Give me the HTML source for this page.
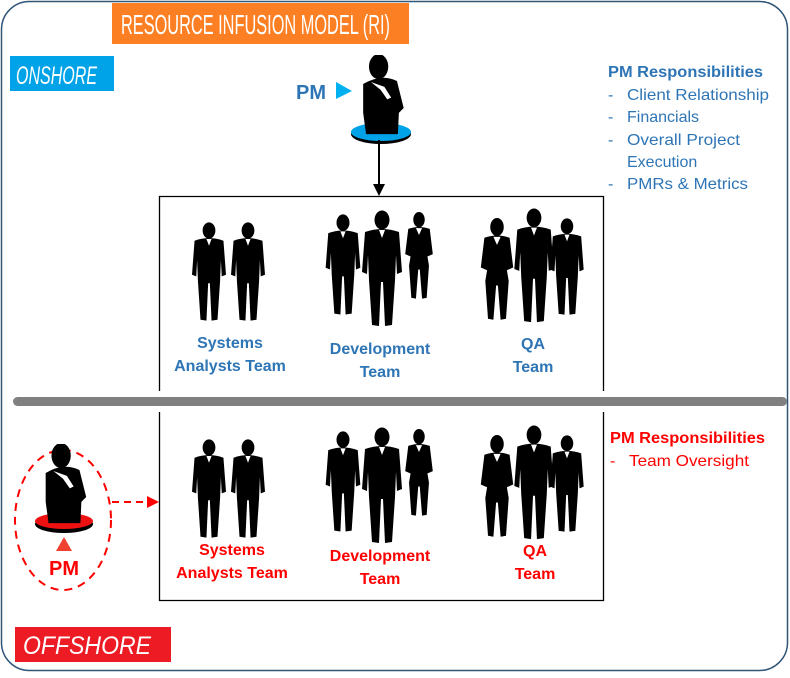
<!DOCTYPE html>
<html><head><meta charset="utf-8"><style>
body{margin:0;width:790px;height:673px;background:#fff;overflow:hidden;font-family:"Liberation Sans",sans-serif}
</style></head><body>
<svg width="790" height="673" viewBox="0 0 790 673" xmlns="http://www.w3.org/2000/svg" font-family="Liberation Sans, sans-serif">
<defs>
<symbol id="man" viewBox="0 0 40 120">
<ellipse cx="20" cy="10" rx="7.5" ry="9.5" fill="#000"/>
<path d="M3 22 Q20 16 37 22 L40 62 L35 64 L34 45 L33 70 L30 115 L23 116 L21 72 L19 72 L17 116 L10 115 L7 70 L6 45 L5 64 L0 62 Z" fill="#000"/>
<path d="M17 20 L20 28 L23 20 Z" fill="#fff"/>
</symbol>
<symbol id="woman" viewBox="0 0 40 120">
<ellipse cx="20" cy="10" rx="7.5" ry="10" fill="#000"/>
<path d="M6 22 Q20 17 34 22 L38 55 L31 58 L33 70 L30 112 L24 113 L21 75 L19 75 L16 113 L10 112 L7 70 L9 58 L2 55 Z" fill="#000"/>
<path d="M16 21 L20 30 L24 21 Z" fill="#fff"/>
</symbol>
<symbol id="pm" viewBox="0 0 50 85">
<ellipse cx="22" cy="12" rx="10" ry="13" fill="#000"/>
<path d="M6 30 Q25 19 41 27 L48 55 L43 60 L42 82 L9 82 L6 60 Z" fill="#000"/>
<path d="M14 28 L28 33 L35 44 L31 46 L24 36 Z" fill="#fff"/>
</symbol>
</defs>
<rect x="1.5" y="1.5" width="786" height="669" rx="28" fill="none" stroke="#2f5577" stroke-width="1.5"/>
<rect x="112" y="3" width="297" height="41" fill="#fd7f23"/>
<text x="121" y="34" fill="#fff" font-size="28" textLength="269" lengthAdjust="spacingAndGlyphs">RESOURCE INFUSION MODEL (RI)</text>
<rect x="10" y="56" width="104" height="35" fill="#00a2e8"/>
<text x="16" y="84" fill="#fff" font-size="25" font-style="italic" textLength="81" lengthAdjust="spacingAndGlyphs">ONSHORE</text>
<text x="296" y="99" fill="#2e75b6" font-size="20" font-weight="bold">PM</text>
<path d="M336 82 L352 91 L336 99 Z" fill="#00b0f0"/>
<ellipse cx="381" cy="134" rx="30" ry="10" fill="#000"/>
<ellipse cx="381" cy="132" rx="30" ry="9" fill="#00a2e8"/>
<use href="#pm" x="354" y="55" width="55" height="82"/>
<line x1="379" y1="140" x2="379" y2="186" stroke="#000" stroke-width="2"/>
<path d="M373 184 L385 184 L379 196 Z" fill="#000"/>
<g fill="#2e75b6" font-size="16">
<text x="608" y="77" font-weight="bold" textLength="155" lengthAdjust="spacingAndGlyphs">PM Responsibilities</text>
<text x="608" y="100">-</text><text x="627" y="100" textLength="142" lengthAdjust="spacingAndGlyphs">Client Relationship</text>
<text x="608" y="122">-</text><text x="627" y="122">Financials</text>
<text x="608" y="145">-</text><text x="627" y="145" textLength="113" lengthAdjust="spacingAndGlyphs">Overall Project</text>
<text x="627" y="167">Execution</text>
<text x="608" y="189">-</text><text x="627" y="189" textLength="121" lengthAdjust="spacingAndGlyphs">PMRs &amp; Metrics</text>
</g>
<path d="M159.5 391 V196.5 H603.5 V391" fill="none" stroke="#000" stroke-width="1.3"/>
<path d="M159.5 412 V600.5 H603.5 V412" fill="none" stroke="#000" stroke-width="1.3"/>
<rect x="13" y="397" width="774" height="9" rx="4.5" fill="#808080"/>
<g id="teams">
<use href="#man" x="191" y="222" width="36" height="102"/>
<use href="#man" x="229" y="222" width="38" height="102"/>
<use href="#man" x="324" y="214" width="38" height="104"/>
<use href="#man" x="359" y="210" width="46" height="120"/>
<use href="#woman" x="401" y="212" width="36" height="92"/>
<use href="#woman" x="477" y="218" width="40" height="108"/>
<use href="#man" x="512" y="208" width="44" height="118"/>
<use href="#man" x="549" y="218" width="36" height="100"/>
</g>
<use href="#teams" x="0" y="217"/>
<g fill="#2e75b6" font-size="16" font-weight="bold" text-anchor="middle">
<text x="230" y="348">Systems</text><text x="230" y="371">Analysts Team</text>
<text x="380" y="354">Development</text><text x="380" y="377">Team</text>
<text x="533" y="349">QA</text><text x="533" y="372">Team</text>
</g>
<g fill="#ff0000" font-size="16" font-weight="bold" text-anchor="middle">
<text x="232" y="555">Systems</text><text x="232" y="578">Analysts Team</text>
<text x="380" y="561">Development</text><text x="380" y="584">Team</text>
<text x="535" y="556">QA</text><text x="535" y="579">Team</text>
</g>
<g fill="#ff0000" font-size="16">
<text x="610" y="443" font-weight="bold" textLength="155" lengthAdjust="spacingAndGlyphs">PM Responsibilities</text>
<text x="610" y="466">-</text><text x="629" y="466" textLength="120" lengthAdjust="spacingAndGlyphs">Team Oversight</text>
</g>
<ellipse cx="63" cy="520" rx="48" ry="70" fill="none" stroke="#ff0000" stroke-width="2" stroke-dasharray="8,6"/>
<ellipse cx="64" cy="524" rx="29" ry="9" fill="#000"/>
<ellipse cx="64" cy="521" rx="29" ry="8" fill="#ee1111"/>
<use href="#pm" x="37" y="444" width="54" height="82"/>
<path d="M56 551 L64 537 L72 551 Z" fill="#f04030"/>
<text x="64" y="575" text-anchor="middle" fill="#ff0000" font-size="20" font-weight="bold">PM</text>
<line x1="112" y1="502" x2="148" y2="502" stroke="#ff0000" stroke-width="2" stroke-dasharray="7,5"/>
<path d="M147 496 L159 502 L147 508 Z" fill="#ff0000"/>
<rect x="15" y="627" width="156" height="35" fill="#ed1c24"/>
<text x="23" y="654" fill="#fff" font-size="25" font-style="italic" textLength="128" lengthAdjust="spacingAndGlyphs">OFFSHORE</text>
</svg>
</body></html>
